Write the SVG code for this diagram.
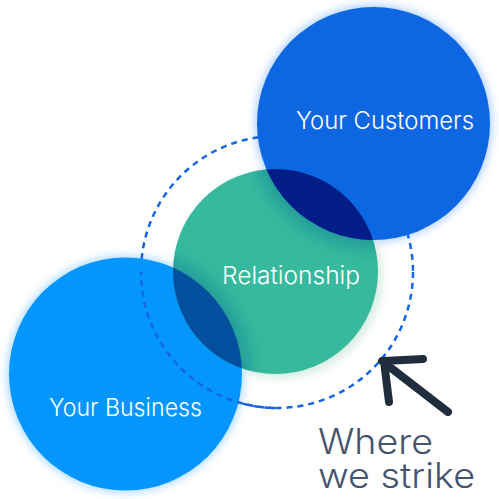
<svg xmlns="http://www.w3.org/2000/svg" width="499" height="499" viewBox="0 0 499 499">
<style>
.lbl{font-family:Inter,"Noto Sans","Liberation Sans",sans-serif;font-weight:300;fill:#ffffff;font-size:24px}
.note{font-family:Inter,"Noto Sans","Liberation Sans",sans-serif;font-weight:300;fill:#44546e;font-size:35px}
</style>
<defs>
<filter id="glow" x="-30%" y="-30%" width="160%" height="160%">
<feGaussianBlur stdDeviation="5"/>
</filter>
<filter id="soft" x="-30%" y="-30%" width="160%" height="160%">
<feGaussianBlur stdDeviation="8"/>
</filter>
<clipPath id="clipG"><circle cx="275.5" cy="271.5" r="102.5"/></clipPath>
</defs>
<rect width="499" height="499" fill="#ffffff"/>
<g id="glows">
<circle cx="373.5" cy="123.5" r="118" fill="#7fb4ff" opacity="0.7" filter="url(#glow)"/>
<circle cx="125.5" cy="374" r="118" fill="#7fc6ff" opacity="0.7" filter="url(#glow)"/>
<circle cx="279" cy="275" r="103" fill="#c9e6d9" opacity="0.8" filter="url(#glow)"/>
</g>
<g id="connectors">
<circle cx="277" cy="272" r="136" fill="none" stroke="#1565e8" stroke-width="2.5" stroke-dasharray="6 5"/>
</g>
<g id="business">
<circle cx="125.5" cy="374" r="116.5" fill="#0396fe"/>
</g>
<g id="connectors-over">
<path d="M141,272 A136,136 0 0 0 277,408" fill="none" stroke="#1565e8" stroke-width="2.5" stroke-dasharray="6 5" stroke-dashoffset="3"/>
</g>
<g id="relationship">
<circle cx="275.5" cy="271.5" r="102.5" fill="#37b99d"/>
<g clip-path="url(#clipG)">
<circle cx="373.5" cy="123.5" r="124" fill="#0b7f9a" opacity="0.55" filter="url(#soft)"/>
<circle cx="125.5" cy="374" r="124" fill="#0b7f9a" opacity="0.55" filter="url(#soft)"/>
<circle cx="125.5" cy="374" r="116.5" fill="#04509e"/>
</g>
</g>
<g id="customers">
<circle cx="373.5" cy="123.5" r="116.5" fill="#0d67e3"/>
<g clip-path="url(#clipG)">
<circle cx="373.5" cy="123.5" r="116.5" fill="#021d85"/>
</g>
</g>
<g id="labels">
<text class="lbl" x="296" y="129" textLength="178" lengthAdjust="spacingAndGlyphs">Your Customers</text>
<text class="lbl" x="222" y="284" textLength="138" lengthAdjust="spacingAndGlyphs">Relationship</text>
<text class="lbl" x="49" y="416" textLength="153" lengthAdjust="spacingAndGlyphs">Your Business</text>
</g>
<g id="annotation">
<path d="M448,412 L382,361 M423,359 L384,361 L389,402" fill="none" stroke="#1f2d3d" stroke-width="8" stroke-linecap="round" stroke-linejoin="round"/>
<text class="note" x="318" y="454" textLength="115" lengthAdjust="spacingAndGlyphs">Where</text>
<text class="note" x="318" y="488" textLength="157" lengthAdjust="spacingAndGlyphs">we strike</text>
</g>
</svg>
